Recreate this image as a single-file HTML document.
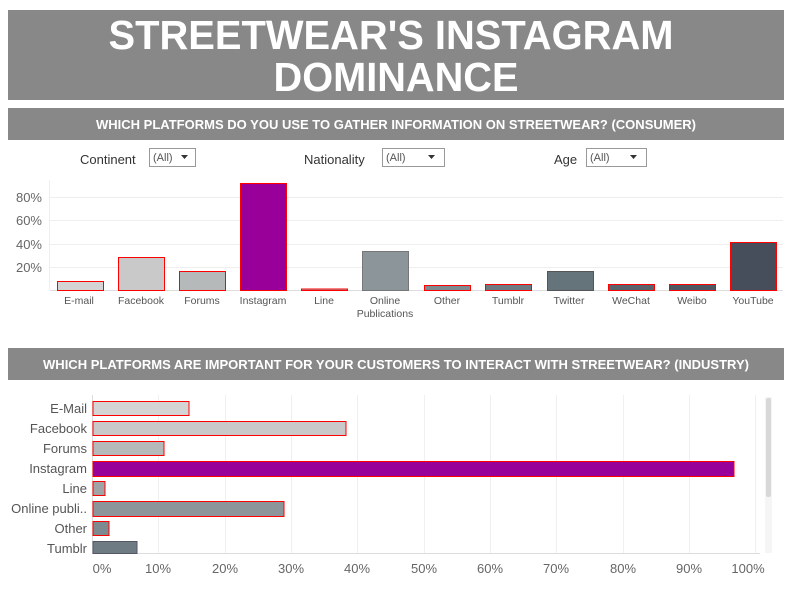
<!DOCTYPE html>
<html><head><meta charset="utf-8"><style>
body{margin:0;background:#fff;}
svg{display:block;font-family:"Liberation Sans",Arial,sans-serif;}
</style></head><body>
<svg width="792" height="590" viewBox="0 0 792 590" xmlns="http://www.w3.org/2000/svg">
<rect x="8" y="10" width="776" height="90" fill="#888888"/>
<text x="391" y="49" fill="#fff" font-size="41" font-weight="bold" text-anchor="middle" textLength="565" lengthAdjust="spacingAndGlyphs">STREETWEAR'S INSTAGRAM</text>
<text x="396" y="91" fill="#fff" font-size="41" font-weight="bold" text-anchor="middle" textLength="245" lengthAdjust="spacingAndGlyphs">DOMINANCE</text>
<rect x="8" y="108" width="776" height="32" fill="#888888"/>
<text x="396" y="129" fill="#fff" font-size="12.5" font-weight="bold" text-anchor="middle" textLength="600" lengthAdjust="spacingAndGlyphs">WHICH PLATFORMS DO YOU USE TO GATHER INFORMATION ON STREETWEAR? (CONSUMER)</text>
<g font-size="13" fill="#333">
<text x="80" y="164">Continent</text>
<text x="304" y="164">Nationality</text>
<text x="554" y="164">Age</text>
</g>
<g fill="#fff" stroke="#999" font-size="11">
<rect x="149.5" y="148.5" width="46" height="18"/>
<rect x="382.5" y="148.5" width="62" height="18"/>
<rect x="586.5" y="148.5" width="60" height="18"/>
</g>
<g font-size="11" fill="#555">
<text x="153" y="161">(All)</text><path d="M181 155h7l-3.5 4z" fill="#333"/>
<text x="386" y="161">(All)</text><path d="M428 155h7l-3.5 4z" fill="#333"/>
<text x="590" y="161">(All)</text><path d="M630 155h7l-3.5 4z" fill="#333"/>
</g>
<g stroke="#eeeeee" stroke-width="1">
<line x1="50" y1="197.5" x2="783" y2="197.5"/>
<line x1="50" y1="220.5" x2="783" y2="220.5"/>
<line x1="50" y1="244.5" x2="783" y2="244.5"/>
<line x1="50" y1="267.5" x2="783" y2="267.5"/>
<line x1="50" y1="290.5" x2="783" y2="290.5" stroke="#ddd"/>
<line x1="49.5" y1="180" x2="49.5" y2="290" stroke="#eee"/>
</g>
<g font-size="13" fill="#666" text-anchor="end">
<text x="42" y="202">80%</text><text x="42" y="225">60%</text><text x="42" y="249">40%</text><text x="42" y="272">20%</text>
</g>
<g stroke="#f00" stroke-width="1">
<rect x="57.5" y="281.5" width="46" height="9" fill="#d4d4d4"/>
<rect x="118.5" y="257.5" width="46" height="33" fill="#c8c9c8"/>
<rect x="179.5" y="271.5" width="46" height="19" fill="#b6b9b9"/>
<rect x="240.5" y="183.5" width="46" height="107" fill="#990099"/>
<rect x="301.5" y="289" width="46" height="1.5" fill="#a0a4a6"/>
<rect x="362.5" y="251.5" width="46" height="39" fill="#8c969a" stroke="#777"/>
<rect x="424.5" y="285.5" width="46" height="5" fill="#7d8a8f"/>
<rect x="485.5" y="284.5" width="46" height="6" fill="#6e7b82"/>
<rect x="547.5" y="271.5" width="46" height="19" fill="#65737b" stroke="#555"/>
<rect x="608.5" y="284.5" width="46" height="6" fill="#58636c"/>
<rect x="669.5" y="284.5" width="46" height="6" fill="#4e5862"/>
<rect x="730.5" y="242.5" width="46" height="48" fill="#454e5a"/>
</g>
<g font-size="10.5" fill="#555" text-anchor="middle">
<text x="79" y="304">E-mail</text><text x="141" y="304">Facebook</text><text x="202" y="304">Forums</text>
<text x="263" y="304">Instagram</text><text x="324" y="304">Line</text><text x="385" y="304">Online</text>
<text x="385" y="317">Publications</text><text x="447" y="304">Other</text><text x="508" y="304">Tumblr</text>
<text x="569" y="304">Twitter</text><text x="631" y="304">WeChat</text><text x="692" y="304">Weibo</text><text x="753" y="304">YouTube</text>
</g>
<rect x="8" y="348" width="776" height="32" fill="#888888"/>
<text x="396" y="369" fill="#fff" font-size="12.5" font-weight="bold" text-anchor="middle" textLength="706" lengthAdjust="spacingAndGlyphs">WHICH PLATFORMS ARE IMPORTANT FOR YOUR CUSTOMERS TO INTERACT WITH STREETWEAR? (INDUSTRY)</text>
<g stroke="#f0f0f0">
<line x1="158.5" y1="395" x2="158.5" y2="553"/><line x1="225.5" y1="395" x2="225.5" y2="553"/>
<line x1="291.5" y1="395" x2="291.5" y2="553"/><line x1="357.5" y1="395" x2="357.5" y2="553"/>
<line x1="424.5" y1="395" x2="424.5" y2="553"/><line x1="490.5" y1="395" x2="490.5" y2="553"/>
<line x1="556.5" y1="395" x2="556.5" y2="553"/><line x1="623.5" y1="395" x2="623.5" y2="553"/>
<line x1="689.5" y1="395" x2="689.5" y2="553"/><line x1="755.5" y1="395" x2="755.5" y2="553"/>
<line x1="92.5" y1="395" x2="92.5" y2="553" stroke="#ddd"/>
<line x1="92" y1="553.5" x2="760" y2="553.5" stroke="#ddd"/>
</g>
<g stroke="#f00">
<rect x="93" y="401.5" width="96" height="14" fill="#d4d4d4"/>
<rect x="93" y="421.5" width="253" height="14" fill="#c8c9c8"/>
<rect x="93" y="441.5" width="71" height="14" fill="#b6b9b9"/>
<rect x="93" y="461.5" width="641" height="15" fill="#990099"/>
<rect x="93" y="481.5" width="12" height="14" fill="#a0a4a6"/>
<rect x="93" y="501.5" width="191" height="15" fill="#8c969a"/>
<rect x="93" y="521.5" width="16" height="14" fill="#7d8a8f"/>
<rect x="93" y="541.5" width="44" height="12" fill="#6e7b82" stroke="#556"/>
</g>
<g font-size="13" fill="#555" text-anchor="end">
<text x="87" y="413">E-Mail</text><text x="87" y="433">Facebook</text><text x="87" y="453">Forums</text>
<text x="87" y="473">Instagram</text><text x="87" y="493">Line</text><text x="87" y="513">Online publi..</text>
<text x="87" y="533">Other</text><text x="87" y="553">Tumblr</text>
</g>
<g font-size="13" fill="#666" text-anchor="middle">
<text x="102" y="573">0%</text><text x="158" y="573">10%</text><text x="225" y="573">20%</text><text x="291" y="573">30%</text>
<text x="357" y="573">40%</text><text x="424" y="573">50%</text><text x="490" y="573">60%</text><text x="556" y="573">70%</text>
<text x="623" y="573">80%</text><text x="689" y="573">90%</text><text x="748" y="573">100%</text>
</g>
<rect x="765" y="397" width="7" height="156" fill="#f5f5f5"/>
<rect x="766" y="398" width="5" height="99" rx="2" fill="#d8d8d8"/>
</svg>
</body></html>
